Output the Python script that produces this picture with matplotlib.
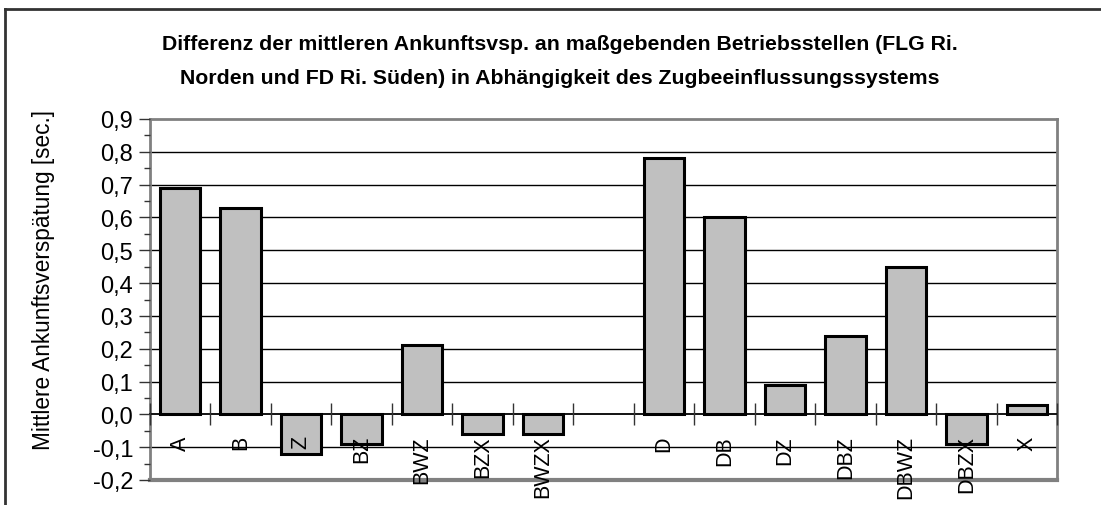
import numpy as np
import matplotlib
matplotlib.use('Agg')
import matplotlib.pyplot as plt
from matplotlib import font_manager
from matplotlib.lines import Line2D
from matplotlib.ticker import MultipleLocator, FuncFormatter

# data
categories = ['A', 'B', 'Z', 'BZ', 'BWZ', 'BZX', 'BWZX', '',
              'D', 'DB', 'DZ', 'DBZ', 'DBWZ', 'DBZX', 'X']
values = [0.69, 0.63, -0.12, -0.09, 0.21, -0.06, -0.06, None,
          0.78, 0.60, 0.09, 0.24, 0.45, -0.09, 0.03]

title_lines = ['Differenz der mittleren Ankunftsvsp. an maßgebenden Betriebsstellen (FLG Ri.',
               'Norden und FD Ri. Süden) in Abhängigkeit des Zugbeeinflussungssystems']
ylabel = 'Mittlere Ankunftsverspätung [sec.]'

# pick a narrow font if there is one
names = {f.name for f in font_manager.fontManager.ttflist}
font = 'Liberation Sans Narrow' if 'Liberation Sans Narrow' in names else 'Liberation Sans'
plt.rcParams['font.family'] = [font, 'DejaVu Sans']

fig = plt.figure(figsize=(11.01, 5.06), dpi=100)
ax = fig.add_axes([150 / 1101, 25 / 506, 907 / 1101, 361 / 506])

x = np.arange(len(categories))
bx = [i for i, v in zip(x, values) if v is not None]
bv = [v for v in values if v is not None]
ax.bar(bx, bv, width=0.67, color='#c0c0c0', edgecolor='black', linewidth=2.2, zorder=2)

ax.set_xlim(-0.5, len(categories) - 0.5)
ax.set_ylim(-0.2, 0.9)
ax.set_axisbelow(False)  # tick labels over the bars

# y ticks and grid lines (grid drawn by hand so it stays behind the bars)
ax.yaxis.set_major_locator(MultipleLocator(0.1))
ax.yaxis.set_minor_locator(MultipleLocator(0.05))
for t in ax.get_yticks():
    if -0.15 < t < 0.85 and abs(t) > 1e-9:
        ax.axhline(t, color='black', linewidth=1, zorder=1)
ax.yaxis.set_major_formatter(FuncFormatter(lambda v, p: f'{v:.1f}'.replace('.', ',').replace('-0,0', '0,0')))
ax.tick_params(axis='y', which='major', length=8, width=1, color='#333333', labelsize=17, pad=4)
ax.tick_params(axis='y', which='minor', length=4, width=1, color='#333333')

# x axis sits on zero
ax.spines['bottom'].set_position(('data', 0))
ax.spines['bottom'].set_color('black')
ax.spines['bottom'].set_linewidth(1.3)
ax.set_xticks(np.arange(-0.5, len(categories)), minor=False)
ax.set_xticklabels([], minor=False)
ax.set_xticks(x, minor=True)
ax.set_xticklabels(categories, minor=True, rotation=90, fontsize=15.5)
ax.tick_params(axis='x', which='major', direction='inout', length=16, width=1, color='#333333')
ax.tick_params(axis='x', which='minor', length=0, pad=15)
for lbl in ax.get_xticklabels(minor=True):
    lbl.set_verticalalignment('top')

for s in ['top', 'right', 'left']:
    ax.spines[s].set_color('#808080')
    ax.spines[s].set_linewidth(2)
ax.axhline(-0.2, color='#808080', linewidth=3, clip_on=False, zorder=2.2)

ax.set_ylabel(ylabel, fontsize=16.3)
ax.yaxis.set_label_coords(-0.105, 0.557)

fig.text(560 / 1101, 1 - 45 / 506, title_lines[0], ha='center', va='center',
         fontsize=15.3, fontweight='bold')
fig.text(560 / 1101, 1 - 79 / 506, title_lines[1], ha='center', va='center',
         fontsize=15.3, fontweight='bold')

# outer frame (cut off at right and bottom)
fig.add_artist(Line2D([5 / 1101, 1], [1 - 10 / 506, 1 - 10 / 506], color='#333333', linewidth=2))
fig.add_artist(Line2D([5 / 1101, 5 / 1101], [0, 1 - 10 / 506], color='#333333', linewidth=2))

fig.savefig('out.png', dpi=100)
